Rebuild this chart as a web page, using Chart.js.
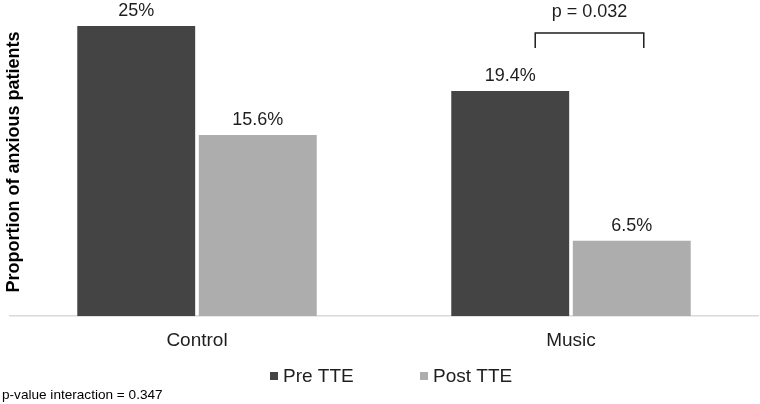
<!DOCTYPE html>
<html>
<head>
<meta charset="utf-8">
<script src="https://cdn.jsdelivr.net/npm/chart.js@4"></script>
<style>
  html, body { margin: 0; padding: 0; background: #fff; }
  #wrap { width: 760px; height: 404px; }
</style>
</head>
<body>
<div id="wrap"><canvas id="chart"></canvas></div>
<script>
const groups = ['Control', 'Music'];
const seriesNames = ['Pre TTE', 'Post TTE'];
const preTTE = [25, 19.4];
const postTTE = [15.6, 6.5];
const yTitle = 'Proportion of anxious patients';
const pTest = 'p = 0.032';
const footnote = 'p-value interaction = 0.347';

const FONT = "'Liberation Sans', Arial, sans-serif";
const INK = '#1e1e1e';

const annotate = {
    id: 'annotate',
    afterDatasetsDraw(chart) {
        const ctx = chart.ctx;
        ctx.save();
        ctx.fillStyle = INK;
        ctx.font = '18px ' + FONT;
        ctx.textAlign = 'center';
        ctx.textBaseline = 'alphabetic';
        chart.data.datasets.forEach((ds, i) => {
            chart.getDatasetMeta(i).data.forEach((bar, j) => {
                ctx.fillText(ds.data[j] + '%', bar.x, bar.y - 10);
            });
        });

        // significance bracket over Music
        const pre = chart.getDatasetMeta(0).data[1];
        const post = chart.getDatasetMeta(1).data[1];
        const x1 = pre.x + 25, x2 = post.x + 12;
        const top = chart.chartArea.top + 7, drop = 15;
        ctx.strokeStyle = INK;
        ctx.lineWidth = 1.5;
        ctx.beginPath();
        ctx.moveTo(x1, top + drop);
        ctx.lineTo(x1, top);
        ctx.lineTo(x2, top);
        ctx.lineTo(x2, top + drop);
        ctx.stroke();
        ctx.fillText(pTest, (x1 + x2) / 2, top - 16);

        // y title
        ctx.font = 'bold 18px ' + FONT;
        ctx.fillStyle = '#000';
        ctx.textBaseline = 'middle';
        ctx.translate(14, 162);
        ctx.rotate(-Math.PI / 2);
        ctx.fillText(yTitle, 0, 0);
        ctx.restore();

        // legend
        ctx.save();
        ctx.font = '19px ' + FONT;
        ctx.textBaseline = 'middle';
        ctx.textAlign = 'left';
        const lx = [270, 420];
        chart.data.datasets.forEach((ds, i) => {
            ctx.fillStyle = ds.backgroundColor;
            ctx.fillRect(lx[i], 372, 8, 8);
            ctx.fillStyle = INK;
            ctx.fillText(ds.label, lx[i] + 13, 377);
        });

        // footnote
        ctx.font = '13.6px ' + FONT;
        ctx.fillStyle = '#000';
        ctx.fillText(footnote, 2, 395);
        ctx.restore();
    }
};

new Chart(document.getElementById('chart'), {
    type: 'bar',
    data: {
        labels: groups,
        datasets: [
            {
                label: seriesNames[0],
                data: preTTE,
                backgroundColor: '#444444',
                categoryPercentage: 0.65,
                barPercentage: 0.97
            },
            {
                label: seriesNames[1],
                data: postTTE,
                backgroundColor: '#adadad',
                categoryPercentage: 0.65,
                barPercentage: 0.97
            }
        ]
    },
    options: {
        responsive: true,
        maintainAspectRatio: false,
        animation: false,
        layout: {
            padding: {top: 26, left: 10, right: 2, bottom: 47}
        },
        scales: {
            x: {
                grid: {display: false},
                border: {display: true, color: '#d9d9d9', width: 1.5},
                ticks: {color: INK, padding: 5, font: {family: FONT, size: 19}}
            },
            y: {
                display: false,
                min: 0,
                max: 25
            }
        },
        plugins: {
            legend: {display: false},
            tooltip: {enabled: false}
        }
    },
    plugins: [annotate]
});
</script>
</body>
</html>
